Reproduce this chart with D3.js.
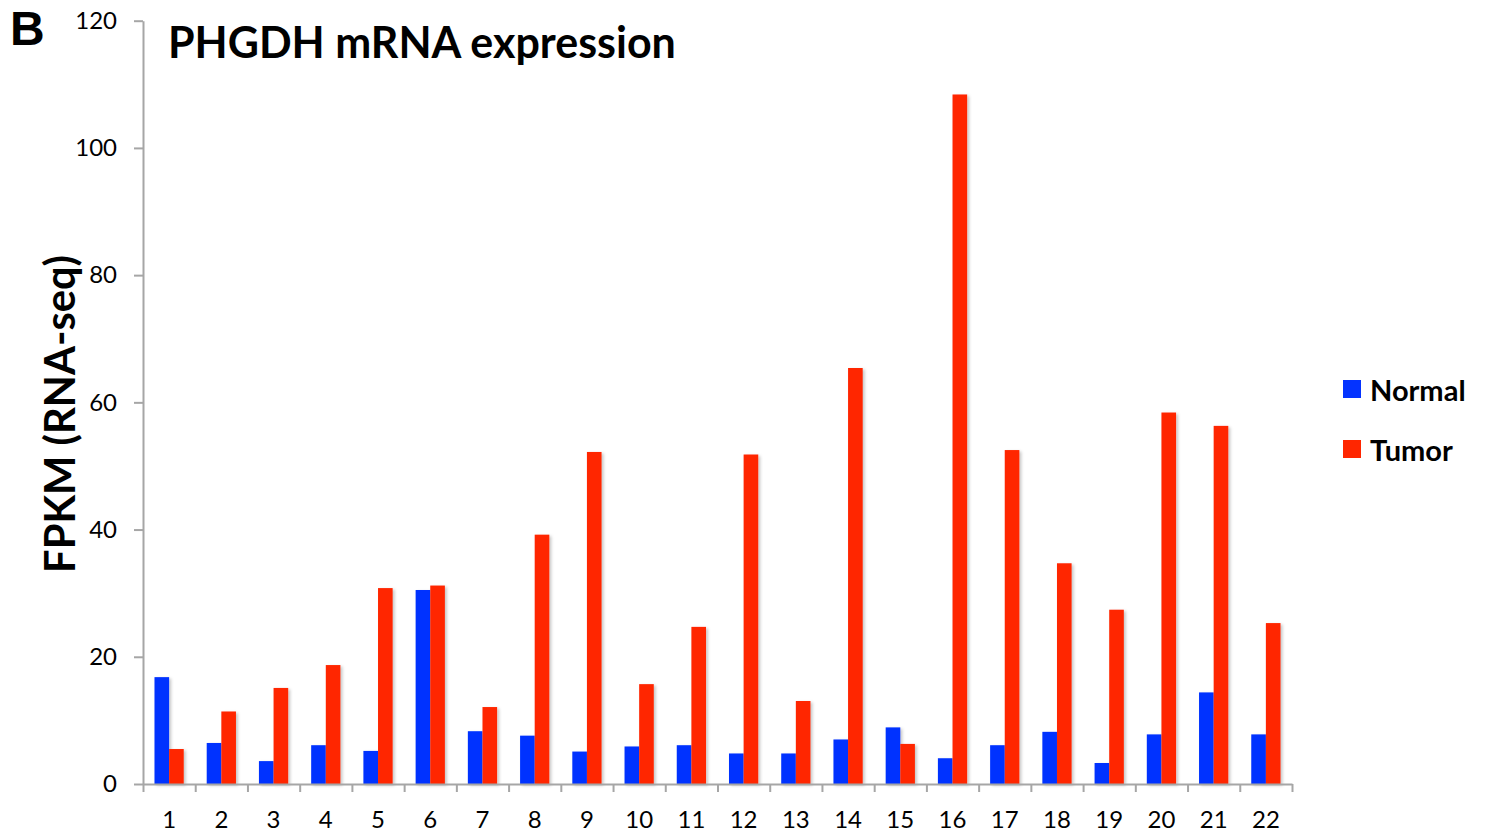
<!DOCTYPE html>
<html>
<head>
<meta charset="utf-8">
<script src="https://cdn.jsdelivr.net/npm/d3@7"></script>
<style>
  html, body { margin: 0; padding: 0; background: #fff; }
  svg { display: block; font-family: Lato, "Open Sans", sans-serif; }
</style>
</head>
<body>
<svg id="chart" width="1489" height="834"></svg>
<script>
// ---- data ----
const categories = ["1","2","3","4","5","6","7","8","9","10","11","12","13","14","15","16","17","18","19","20","21","22"];
const normalValues = [16.8, 6.45, 3.6, 6.1, 5.2, 30.5, 8.3, 7.6, 5.1, 5.9, 6.1, 4.8, 4.8, 7.0, 8.9, 4.05, 6.1, 8.2, 3.3, 7.8, 14.4, 7.8];
const tumorValues  = [5.5, 11.4, 15.1, 18.7, 30.8, 31.2, 12.1, 39.2, 52.2, 15.7, 24.7, 51.8, 13.05, 65.4, 6.3, 108.4, 52.5, 34.7, 27.4, 58.4, 56.3, 25.3];
const seriesNames = ["Normal", "Tumor"];
const yTicks = [0, 20, 40, 60, 80, 100, 120];
const titleText = "PHGDH mRNA expression";
const yLabelText = "FPKM (RNA-seq)";
const panelLabel = "B";

// ---- layout ----
const colors = { Normal: "#0433FF", Tumor: "#FF2600" };
const plotLeft = 143, plotRight = 1292, plotBottom = 784, plotTop = 20.7;
const axisColor = "#a6a6a6";

const svg = d3.select("#chart");

const defs = svg.append("defs");
const f = defs.append("filter").attr("id", "shadow")
  .attr("x", "-20%").attr("y", "-5%").attr("width", "160%").attr("height", "115%");
f.append("feDropShadow").attr("dx", 2).attr("dy", 1.5).attr("stdDeviation", 1.5)
  .attr("flood-color", "#000").attr("flood-opacity", 0.22);

const pad = 0.44;
const x = d3.scaleBand().domain(categories).range([plotLeft, plotRight]).paddingInner(pad).paddingOuter(pad / 2);
const xs = d3.scaleBand().domain(seriesNames).range([0, x.bandwidth()]);
const y = d3.scaleLinear().domain([0, 120]).range([plotBottom, plotTop]);
const xEdge = d3.scaleLinear().domain([0, categories.length]).range([plotLeft, plotRight]);

const data = categories.map((c, i) => ({ cat: c, Normal: normalValues[i], Tumor: tumorValues[i] }));

// bars
const groups = svg.append("g").selectAll("g").data(data).join("g")
  .attr("transform", d => `translate(${x(d.cat)},0)`);
groups.selectAll("rect").data(d => seriesNames.map(s => ({ s, v: d[s] }))).join("rect")
  .attr("x", d => xs(d.s))
  .attr("width", xs.bandwidth())
  .attr("y", d => y(d.v))
  .attr("height", d => y(0) - y(d.v))
  .attr("fill", d => colors[d.s])
  .attr("filter", "url(#shadow)");

// y axis
const yAxis = svg.append("g").attr("transform", `translate(${plotLeft},0)`)
  .call(d3.axisLeft(y).tickValues(yTicks).tickSize(9).tickPadding(17).tickSizeOuter(0));
yAxis.select(".domain").attr("stroke", axisColor).attr("stroke-width", 2);
yAxis.selectAll(".tick line").attr("stroke", axisColor).attr("stroke-width", 2);
yAxis.selectAll(".tick text").attr("fill", "#000").attr("font-size", 24)
  .attr("font-family", "Lato, sans-serif");

// x axis: edge ticks
const xTickAxis = svg.append("g").attr("transform", `translate(0,${plotBottom})`)
  .call(d3.axisBottom(xEdge).ticks(categories.length).tickFormat("").tickSize(8).tickSizeOuter(0));
xTickAxis.select(".domain").attr("stroke", axisColor).attr("stroke-width", 2);
xTickAxis.selectAll(".tick line").attr("stroke", axisColor).attr("stroke-width", 2);

// x axis: labels
const xLab = svg.append("g").attr("transform", `translate(0,${plotBottom})`)
  .call(d3.axisBottom(x).tickSize(0).tickPadding(27));
xLab.select(".domain").remove();
xLab.selectAll(".tick text").attr("fill", "#000").attr("font-size", 24)
  .attr("font-family", "Lato, sans-serif");

function fitText(sel, targetWidth) {
  const w = sel.node().getComputedTextLength();
  const fs = parseFloat(sel.attr("font-size"));
  sel.attr("font-size", fs * targetWidth / w);
}

// title
const title = svg.append("text").attr("x", 168).attr("y", 58)
  .attr("font-size", 40).attr("font-weight", "bold").attr("fill", "#000").text(titleText);
fitText(title, 508);

// y label
const yl = svg.append("text").attr("transform", "translate(75,414) rotate(-90)")
  .attr("text-anchor", "middle").attr("font-size", 44).attr("font-weight", "bold")
  .attr("fill", "#000").text(yLabelText);
fitText(yl, 318);

// panel label
svg.append("text").attr("x", 10).attr("y", 45).attr("font-size", 48)
  .attr("font-family", "'Liberation Sans', Arial, sans-serif")
  .attr("font-weight", "bold").attr("fill", "#000").text(panelLabel);

// legend
const leg = svg.append("g").selectAll("g").data(seriesNames).join("g")
  .attr("transform", (d, i) => `translate(1343,${380 + i * 60})`);
leg.append("rect").attr("width", 18).attr("height", 18).attr("fill", d => colors[d]);
leg.append("text").attr("x", 27).attr("y", 21).attr("font-size", 29)
  .attr("font-weight", "bold").attr("fill", "#000").text(d => d);
</script>
</body>
</html>
